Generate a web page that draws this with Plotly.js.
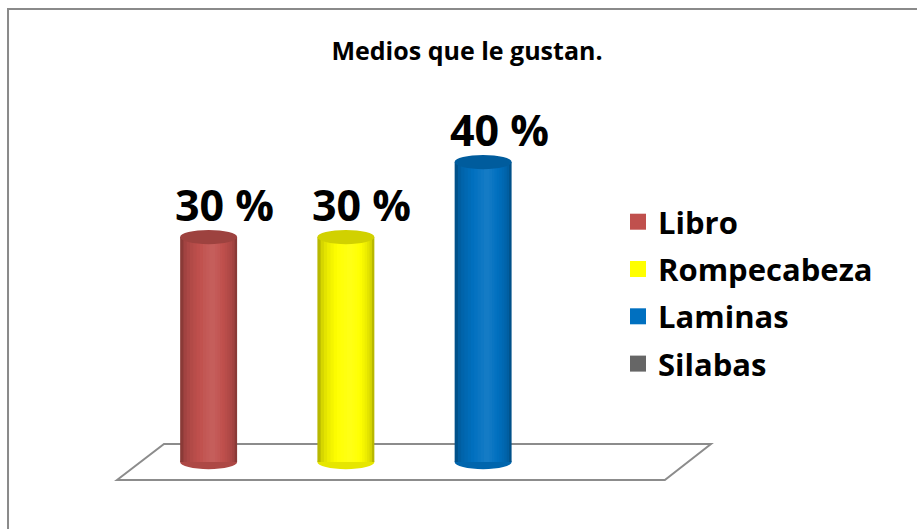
<!DOCTYPE html>
<html>
<head>
<meta charset="utf-8">
<script src="https://cdn.plot.ly/plotly-3.0.1.min.js"></script>
<style>
  html, body { margin: 0; padding: 0; background: #ffffff; }
  #chart { width: 917px; height: 529px; }
</style>
</head>
<body>
<div id="chart"></div>
<script>
// ---- data ----
const categories = ['Libro', 'Rompecabeza', 'Laminas', 'Silabas'];
const values = [30, 30, 40, 0];
const labelTexts = ['30 %', '30 %', '40 %', ''];
const seriesColors = ['#C0504D', '#FFFF00', '#0070C0', '#666666'];
const chartTitle = 'Medios que le gustan.';

// ---- helpers ----
function hexToRgb(h) {
  h = h.replace('#', '');
  return [parseInt(h.substr(0, 2), 16), parseInt(h.substr(2, 2), 16), parseInt(h.substr(4, 2), 16)];
}
function shade(hex, f) {
  const c = hexToRgb(hex).map(v => {
    let r = f <= 1 ? v * f : v + (255 - v) * (f - 1);
    return Math.max(0, Math.min(255, Math.round(r)));
  });
  return 'rgb(' + c.join(',') + ')';
}

const FONT = 'Open Sans, Noto Sans, DejaVu Sans, sans-serif';
const BAR_W = 0.415;     // bar width in category units
const HL = 0.03;         // highlight centre offset
const N_LAYERS = 10;
const ELL = 0.95;        // ellipse half height in y units

const traces = [];
categories.forEach((cat, i) => {
  // cylinder body built from overlaid bars (dark edges to lighter centre)
  for (let k = 0; k < N_LAYERS; k++) {
    const f = k / N_LAYERS;
    const left = -BAR_W / 2 + f * (HL + BAR_W / 2);
    const right = BAR_W / 2 - f * (BAR_W / 2 - HL);
    const t = k / (N_LAYERS - 1);
    const fac = 0.72 + Math.sqrt(t) * 0.36;
    traces.push({
      type: 'bar',
      x: [cat],
      y: [values[i]],
      width: right - left,
      offset: left,
      name: cat,
      legendgroup: cat,
      showlegend: false,
      marker: { color: shade(seriesColors[i], fac), line: { width: 0 } },
      hoverinfo: 'skip'
    });
  }
  // legend entry in the base colour
  traces.push({
    type: 'scatter', mode: 'markers',
    x: [cat], y: [null],
    name: '<b>' + cat + '</b>',
    legendgroup: cat,
    showlegend: true,
    marker: { color: seriesColors[i], symbol: 'square', size: 21 },
    hoverinfo: 'skip'
  });
});

const shapes = [];
// outer chart border (left & top visible)
shapes.push({
  type: 'rect', xref: 'paper', yref: 'paper',
  x0: -0.2404, x1: 1.45, y0: -0.2, y1: 1.2975,
  line: { color: '#8a8a8a', width: 2 }, fillcolor: 'rgba(0,0,0,0)', layer: 'below'
});
// floor parallelogram
shapes.push({
  type: 'path', xref: 'paper', yref: 'paper',
  path: 'M -0.0419 0 L 0.0437 0.0992 L 1.040 0.0992 L 0.956 0 Z',
  line: { color: '#8c8c8c', width: 2 }, fillcolor: 'rgba(255,255,255,0)', layer: 'below'
});
categories.forEach((cat, i) => {
  if (values[i] <= 0) return;
  // bottom ellipse
  shapes.push({
    type: 'circle', xref: 'x', yref: 'y', layer: 'below',
    x0: i - BAR_W / 2, x1: i + BAR_W / 2, y0: -ELL, y1: ELL,
    fillcolor: shade(seriesColors[i], 0.9), line: { width: 0 }
  });
  // top ellipse
  shapes.push({
    type: 'circle', xref: 'x', yref: 'y', layer: 'above',
    x0: i - BAR_W / 2, x1: i + BAR_W / 2, y0: values[i] - ELL, y1: values[i] + ELL,
    fillcolor: shade(seriesColors[i], 0.82), line: { width: 0 }
  });
});

const annotations = categories.map((cat, i) => ({
  x: cat, y: values[i], xref: 'x', yref: 'y',
  text: '<b>' + labelTexts[i] + '</b>',
  showarrow: false, xanchor: 'center', yanchor: 'middle',
  xshift: 16, yshift: 33,
  font: { family: FONT, size: 43, color: '#000000' }
})).filter((a, i) => labelTexts[i] !== '');

const layout = {
  width: 917, height: 529,
  margin: { l: 140, r: 228, t: 117, b: 49 },
  paper_bgcolor: '#ffffff',
  plot_bgcolor: 'rgba(0,0,0,0)',
  barmode: 'overlay',
  showlegend: true,
  title: {
    text: '<b>' + chartTitle + '</b>',
    x: 467 / 917, xref: 'container', xanchor: 'center',
    y: 1 - 51 / 529, yref: 'container', yanchor: 'middle',
    font: { family: FONT, size: 25, color: '#000000' }
  },
  xaxis: {
    type: 'category', categoryarray: categories, categoryorder: 'array',
    range: [-0.5, 3.5], showticklabels: false, showgrid: false, zeroline: false,
    showline: false, ticks: '', fixedrange: true
  },
  yaxis: {
    range: [-2.4, 46], showticklabels: false, showgrid: false, zeroline: false,
    showline: false, ticks: '', fixedrange: true
  },
  legend: {
    x: 0.8707, xanchor: 'left', y: 0.515, yanchor: 'middle',
    font: { family: FONT, size: 31, color: '#000000' },
    tracegroupgap: 4, bgcolor: 'rgba(0,0,0,0)', borderwidth: 0,
    traceorder: 'grouped'
  },
  shapes: shapes,
  annotations: annotations,
  hovermode: false
};

Plotly.newPlot('chart', traces, layout, { displayModeBar: false, staticPlot: true });
</script>
</body>
</html>
